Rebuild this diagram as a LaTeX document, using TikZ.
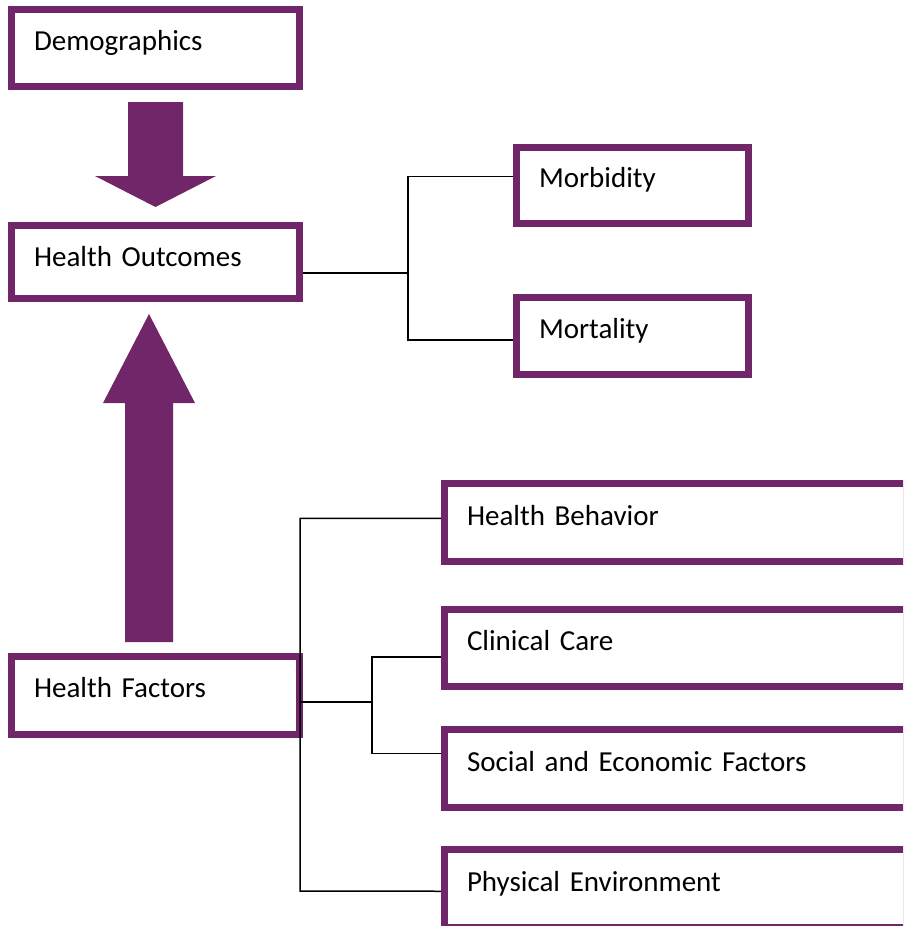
\documentclass[tikz,border=0pt]{standalone}
\usepackage{fontspec}
\setmainfont{Carlito}[WordSpace=0.8]
\definecolor{plum}{RGB}{114,38,106}
\tikzset{
	box/.style={draw=plum, line width=7pt, fill=white, anchor=north west,
		inner xsep=22.5pt, inner ysep=0pt, align=left,
		text height=41pt, text depth=36pt, text width=#1,
		font=\fontsize{29pt}{34pt}\selectfont},
	conn/.style={draw=black, line width=1.5pt}
}
\begin{document}
\begin{tikzpicture}[x=1pt,y=-1pt]
		\useasboundingbox (0,0) rectangle (903,926);
		\clip (0,0) rectangle (903,926);
		\node[box=243pt] (demo) at (8,6) {Demographics};
		\node[box=243pt, text depth=32pt] (hout) at (8,222) {Health Outcomes};
		\node[box=243pt, text depth=37pt] (hfac) at (8,653) {Health Factors};
		
		\node[box=187pt, text height=39.5pt] (morb) at (513,144) {Morbidity};
		\node[box=187pt, text height=40.5pt] (mort) at (513,294) {Mortality};
		
		\node[box=417pt, text height=41.5pt] (behav) at (441,480) {Health Behavior};
		\node[box=417pt, text height=40.5pt] (clin) at (441,606) {Clinical Care};
		\node[box=417pt, text height=41.5pt] (soc) at (441,726) {Social and Economic Factors};
		\node[box=417pt, text height=41.5pt] (phys) at (441,846) {Physical Environment};
		
		\fill[plum] (128,102) -- (183,102) -- (183,176) -- (216,176) -- (155.5,207)
			-- (95,176) -- (128,176) -- cycle;
		\fill[plum] (125,642) -- (173,642) -- (173,403) -- (195,403) -- (149,314)
			-- (103,403) -- (125,403) -- cycle;
		
		\coordinate (oj) at (408,273);
		\draw[conn] ([yshift=-11pt]hout.east) -- (oj);
		\draw[conn] ([yshift=9pt]morb.west) -| (oj) |- ([yshift=-4pt]mort.west);
		
		\coordinate (fb) at (300,891);
		\coordinate (cj) at (372,702);
		\draw[conn] ([yshift=4pt]behav.west) -| (fb) -- ([yshift=-3pt]phys.west);
		\draw[conn] (300,702) -- (cj);
		\draw[conn] ([yshift=-9pt]clin.west) -| (cj) |- ([yshift=15pt]soc.west);
\end{tikzpicture}
\end{document}
